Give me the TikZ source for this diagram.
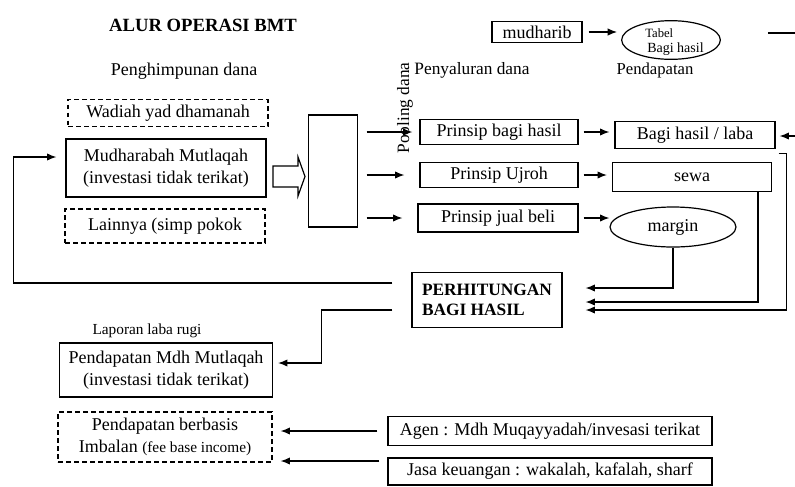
\documentclass[tikz,border=0pt]{standalone}
\usepackage{fontspec}
\setmainfont{Liberation Serif}
\usetikzlibrary{arrows.meta,shapes.geometric}
\newcommand\fbody{\fontsize{13.5}{16.5}\selectfont}
\newcommand\fsmall{\fontsize{11.5}{13}\selectfont}
\begin{document}
\begin{tikzpicture}[x=0.75pt,y=-0.75pt,
  ln/.style={line width=0.9pt},
  arr/.style={ln,-{Latex[length=7pt,width=5.5pt]}},
  box/.style={draw,ln,rectangle,inner sep=0pt,font=\fbody,align=center},
  dbox/.style={box,dash pattern=on 3.5pt off 2.5pt},
  oval/.style={draw,ln,ellipse,inner sep=0pt,font=\fbody},
  lbl/.style={inner sep=0pt,font=\fbody}]
\useasboundingbox (0,0) rectangle (795,486);

% texts
\node[lbl,font=\fontsize{14}{16}\selectfont\bfseries] (title) at (203,25) {ALUR OPERASI BMT};
\node[lbl] (hdrin) at (184,71) {Penghimpunan dana};
\node[lbl,font=\fontsize{13}{15}\selectfont] (hdrout) at (472,70) {Penyaluran dana};
\node[lbl,font=\fontsize{12.5}{15}\selectfont] (hdrinc) at (655,70) {Pendapatan};
\node[lbl,font=\fontsize{13}{15}\selectfont,rotate=90] (pool) at (405,108) {Pooling dana};
\node[lbl,font=\fsmall] (lap) at (147,331) {Laporan laba rugi};

% left column
\node[dbox,minimum width=150pt,minimum height=20.25pt] (wad) at (168,113) {Wadiah yad dhamanah};
\node[box,minimum width=150pt,minimum height=43.5pt] (mud) at (166,168) {Mudharabah Mutlaqah\\(investasi tidak terikat)};
\node[dbox,minimum width=150pt,minimum height=25.5pt] (lain) at (165,226) {Lainnya (simp pokok};

% hollow arrow and pooling box
\draw[ln] (273,166) -- (298,166) -- (298,157) -- (305,176.5) -- (298,196) -- (298,187) -- (273,187) -- cycle;
\node[box,minimum width=36.75pt,minimum height=84pt] (tall) at (333,171) {};

% distribution
\node[box,minimum width=118.5pt,minimum height=18.75pt] (p1) at (499,132) {Prinsip bagi hasil};
\node[box,minimum width=118.5pt,minimum height=18.75pt] (p2) at (499,175) {Prinsip Ujroh};
\node[box,minimum width=120pt,minimum height=21pt] (p3) at (498,218) {Prinsip jual beli};

\node[box,minimum width=120pt,minimum height=20.25pt] (bagi) at (695,135) {Bagi hasil / laba};
\node[box,minimum width=119.25pt,minimum height=21.75pt] (sewa) at (692,177) {sewa};
\node[oval,minimum width=94.5pt,minimum height=30pt] (margin) at (673,227) {margin};

% top right
\node[box,minimum width=67.5pt,minimum height=15.75pt] (mudharib) at (537,32) {mudharib};
\node[oval,minimum width=74pt,minimum height=29pt] (tabel) at (671,40) {};
\node[lbl,anchor=west,font=\fontsize{9.5}{10}\selectfont] (tabel1) at (645,33) {Tabel};
\node[lbl,anchor=west,font=\fontsize{10.5}{11}\selectfont] (tabel2) at (647,49) {Bagi hasil};

% result
\node[box,minimum width=112.5pt,minimum height=41.25pt,align=left,font=\fontsize{13}{15}\selectfont\bfseries] (perh) at (487,300) {PERHITUNGAN\\BAGI HASIL};
\node[box,minimum width=159.75pt,minimum height=40.5pt] (pmm) at (166,370) {Pendapatan Mdh Mutlaqah\\(investasi tidak terikat)};
\node[dbox,minimum width=160.5pt,minimum height=37.5pt] (imb) at (165,437) {Pendapatan berbasis\\Imbalan {\fontsize{11.5}{12}\selectfont (fee base income)}};
\node[box,minimum width=243pt,minimum height=21.75pt] (agen) at (550,431) {Agen : Mdh Muqayyadah/invesasi terikat};
\node[box,minimum width=243pt,minimum height=20.25pt] (jasa) at (550,471.5) {Jasa keuangan : wakalah, kafalah, sharf};

% connectors top right
\draw[arr,shorten <=4.5pt,shorten >=3pt] (mudharib.east) -- (mudharib.east -| tabel.west);
\coordinate (rtop) at (796,33);
\draw[ln] ([shift={(47,-7)}]tabel.east) -- (rtop);
\coordinate (rin) at (796,136);
\draw[arr] (rin) -- ([shift={(4,1)}]bagi.east);

% pooling to principles
\draw[arr,shorten <=6.4pt,shorten >=5.25pt] (tall.east |- p1.west) -- (p1.west);
\draw[arr,shorten <=6.4pt,shorten >=11.25pt] (tall.east |- p2.west) -- (p2.west);
\draw[arr,shorten <=6.4pt,shorten >=11.25pt] (tall.east |- p3.west) -- (p3.west);

% principles to income
\draw[arr,shorten <=3.75pt,shorten >=3.75pt] (p1.east) -- (p1.east -| bagi.west);
\draw[arr,shorten <=3.75pt,shorten >=3.75pt] (p2.east) -- (p2.east -| sewa.west);
\draw[arr,shorten <=3.75pt] (p3.east) -- (p3.east -| margin.west);

% income to perhitungan
\draw[arr,shorten >=17.25pt] (margin.south) |- ([shift={(0,-12)}]perh.east);
\draw[arr,shorten >=17.25pt] ([shift={(66,0)}]sewa.south) |- ([shift={(0,2)}]perh.east);
\draw[arr,shorten >=17.25pt] ([shift={(3,4)}]bagi.south east) -- ++(8,0) |- ([shift={(0,10)}]perh.east);

% perhitungan outputs
\draw[arr,shorten >=6.75pt] ([shift={(-19,-17)}]perh.west) -- ++(-379,0) |- ([shift={(0,-11)}]mud.west);
\draw[arr,shorten >=3.75pt] ([shift={(-19,10)}]perh.west) -- ++(-71,0) |- ([shift={(0,-7)}]pmm.east);

% fee income
\draw[arr,shorten <=7.5pt,shorten >=6pt] (agen.west) -- (agen.west -| imb.east);
\coordinate (jw) at ([shift={(0,-10.5)}]jasa.west);
\draw[arr,shorten <=6pt,shorten >=6pt] (jw) -- (jw -| imb.east);
\end{tikzpicture}
\end{document}
